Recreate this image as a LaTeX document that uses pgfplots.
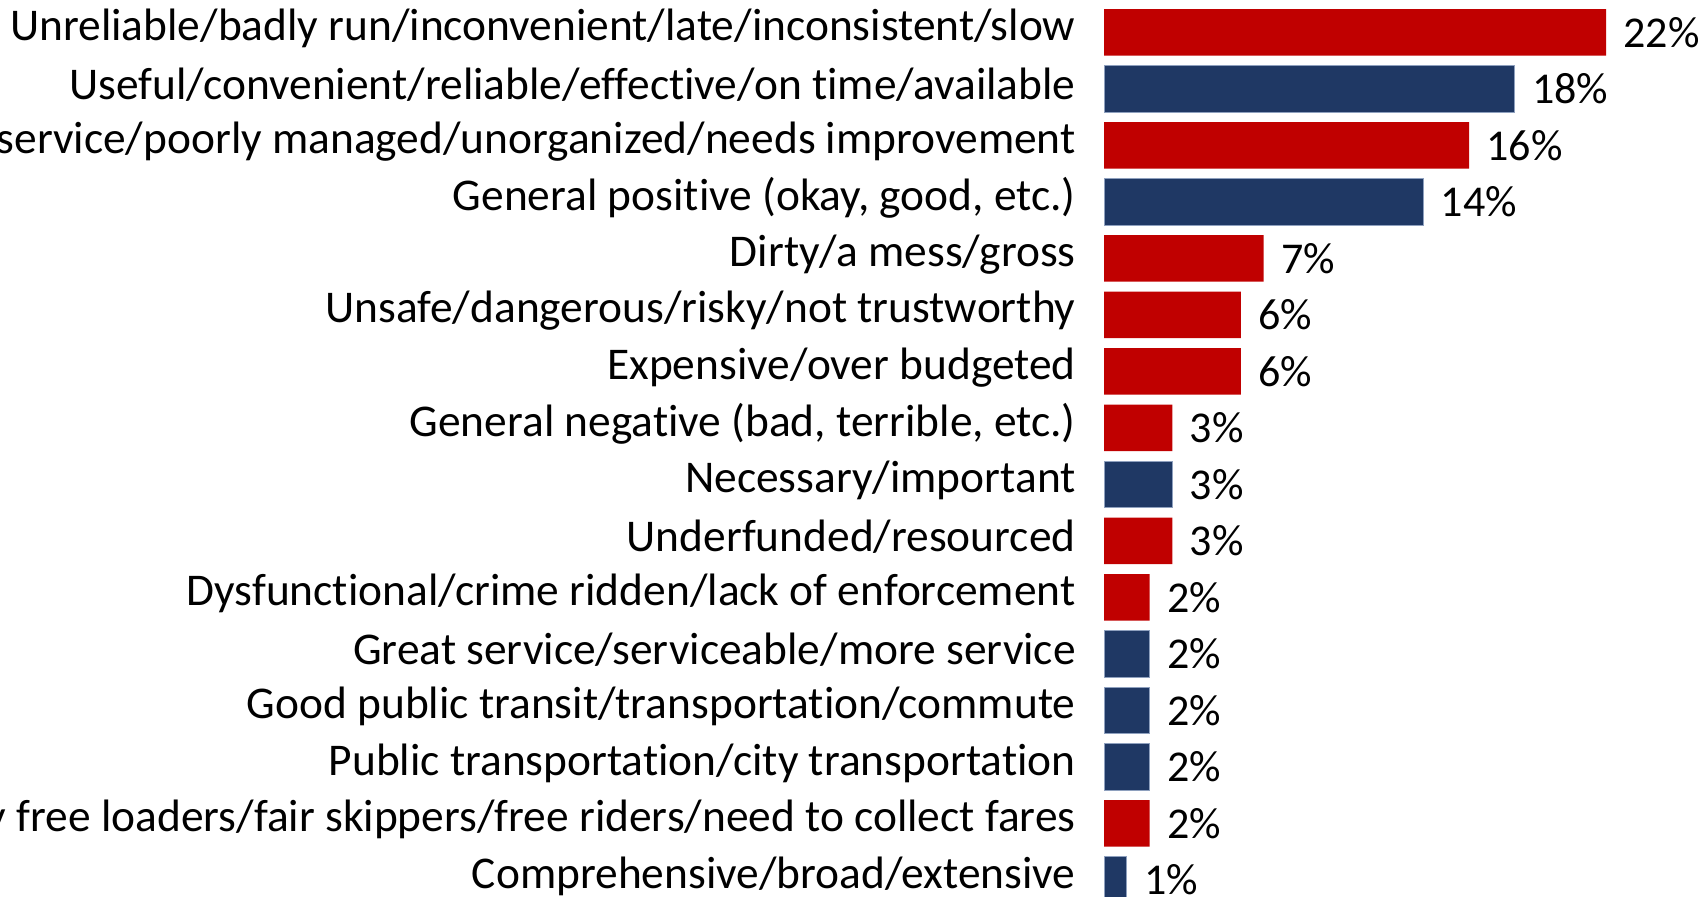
\documentclass[border=0pt]{standalone}
\usepackage{pgfplots}
\pgfplotsset{compat=1.18}
\usepackage{fontspec}
\setmainfont{Carlito}[Ligatures=NoCommon]
\definecolor{barred}{HTML}{C00000}
\definecolor{barblue}{HTML}{1F3864}
\definecolor{bluedge}{HTML}{8EA0BE}
\newcommand{\lbl}{\fontsize{22.7pt}{26pt}\selectfont}
\newcommand{\val}{\fontsize{22pt}{26pt}\selectfont}
\begin{document}
\begin{tikzpicture}
\useasboundingbox (0,0) rectangle (853pt,-448pt);
\clip (0,0) rectangle (853pt,-448pt);
\begin{axis}[
  at={(552pt,-2.08pt)}, anchor=north west,
  scale only axis, width=251pt, height=452pt,
  xmin=0, xmax=22, ymin=-0.5, ymax=15.5, y dir=reverse,
  xbar, bar shift=0pt, bar width=23.25pt,
  axis line style={draw=none}, xtick=\empty,
  ytick={0,...,15}, major tick length=0pt,
  yticklabels={
    Unreliable/badly run/inconvenient/late/inconsistent/slow,
    Useful/convenient/reliable/effective/on time/available,
    Poor service/poorly managed/unorganized/needs improvement,
    {General positive (okay, good, etc.)},
    Dirty/a mess/gross,
    Unsafe/dangerous/risky/not trustworthy,
    Expensive/over budgeted,
    {General negative (bad, terrible, etc.)},
    Necessary/important,
    Underfunded/resourced,
    Dysfunctional/crime ridden/lack of enforcement,
    Great service/serviceable/more service,
    Good public transit/transportation/commute,
    Public transportation/city transportation,
    Too many free loaders/fair skippers/free riders/need to collect fares,
    Comprehensive/broad/extensive},
  yticklabel style={font=\lbl, text=black, inner sep=0pt, xshift=-14pt, yshift=2pt},
  /pgf/number format/assume math mode=true,
  point meta=x,
  nodes near coords={\pgfmathprintnumber{\pgfplotspointmeta}\%},
  every node near coord/.style={font=\val, text=black, anchor=west, inner sep=0pt, xshift=8.5pt},
  clip=false,
]
\addplot[fill=barred, draw=none] coordinates {
  (22,0) (16,2) (7,4) (6,5) (6,6) (3,7) (3,9) (2,10) (2,14)
};
\addplot[fill=barblue, draw=bluedge, line width=0.4pt] coordinates {
  (18,1) (14,3) (3,8) (2,11) (2,12) (2,13) (1,15)
};
\end{axis}
\end{tikzpicture}
\end{document}
